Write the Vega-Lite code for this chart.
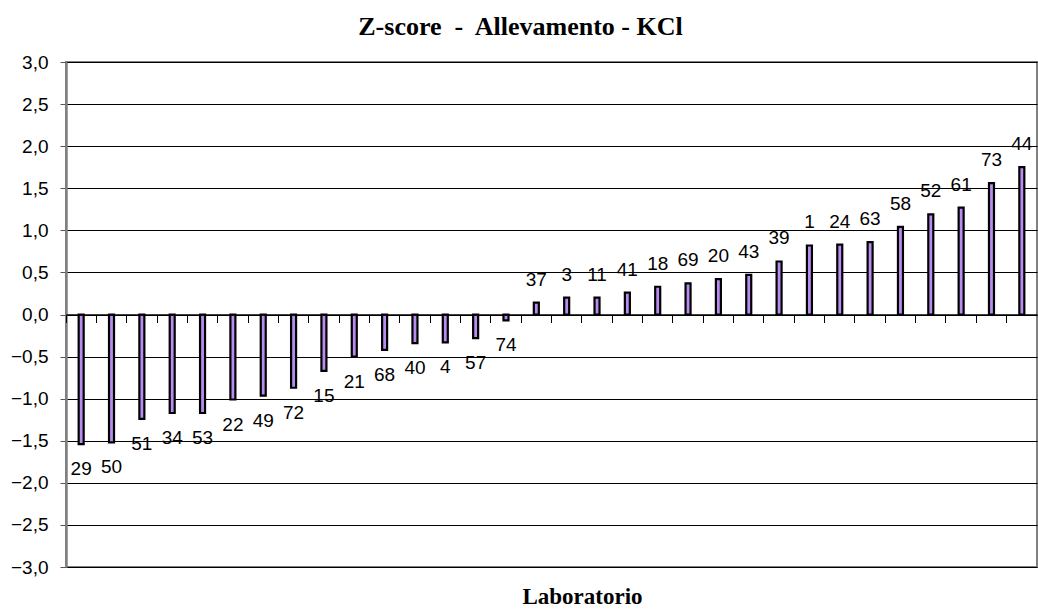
{
  "$schema": "https://vega.github.io/schema/vega-lite/v6.json",
  "width": 971,
  "height": 505,
  "autosize": "none",
  "padding": {"left": 66, "top": 62, "right": 1, "bottom": 43},
  "background": "white",
  "title": {
    "text": "Z-score \u00a0-\u00a0 Allevamento - KCl",
    "font": "Liberation Serif",
    "fontSize": 26,
    "fontWeight": "bold",
    "color": "black",
    "anchor": "middle",
    "dx": -31,
    "offset": 13
  },
  "data": {
    "values": [
      {"lab": "29", "z": -1.54},
      {"lab": "50", "z": -1.52},
      {"lab": "51", "z": -1.24},
      {"lab": "34", "z": -1.17},
      {"lab": "53", "z": -1.17},
      {"lab": "22", "z": -1.01},
      {"lab": "49", "z": -0.965},
      {"lab": "72", "z": -0.87},
      {"lab": "15", "z": -0.67},
      {"lab": "21", "z": -0.5},
      {"lab": "68", "z": -0.42},
      {"lab": "40", "z": -0.34},
      {"lab": "4", "z": -0.33},
      {"lab": "57", "z": -0.28},
      {"lab": "74", "z": -0.07},
      {"lab": "37", "z": 0.14},
      {"lab": "3", "z": 0.2},
      {"lab": "11", "z": 0.2},
      {"lab": "41", "z": 0.26},
      {"lab": "18", "z": 0.33},
      {"lab": "69", "z": 0.37},
      {"lab": "20", "z": 0.42},
      {"lab": "43", "z": 0.47},
      {"lab": "39", "z": 0.63},
      {"lab": "1", "z": 0.82},
      {"lab": "24", "z": 0.83},
      {"lab": "63", "z": 0.86},
      {"lab": "58", "z": 1.04},
      {"lab": "52", "z": 1.19},
      {"lab": "61", "z": 1.27},
      {"lab": "73", "z": 1.56},
      {"lab": "44", "z": 1.75}
    ]
  },
  "encoding": {
    "x": {
      "field": "lab",
      "type": "nominal",
      "sort": null,
      "scale": {"paddingInner": 0, "paddingOuter": 0},
      "axis": {
        "orient": "bottom",
        "offset": -252.5,
        "labels": false,
        "grid": false,
        "domainColor": "black",
        "domainWidth": 1.5,
        "tickColor": "black",
        "tickSize": 8,
        "tickWidth": 1,
        "bandPosition": 0,
        "title": "Laboratorio",
        "titleFont": "Liberation Serif",
        "titleFontSize": 23,
        "titleFontWeight": "bold",
        "titleColor": "black",
        "titleAlign": "center",
        "titleBaseline": "alphabetic",
        "titleX": 516,
        "titleY": 289,
        "zindex": 1
      }
    },
    "y": {
      "field": "z",
      "type": "quantitative",
      "scale": {"domain": [-3, 3], "nice": false, "zero": false},
      "axis": {
        "values": [-3, -2.5, -2, -1.5, -1, -0.5, 0, 0.5, 1, 1.5, 2, 2.5, 3],
        "labelExpr": "replace(format(datum.value, '.1f'), '.', ',')",
        "labelFont": "Liberation Sans",
        "labelFontSize": 19,
        "labelColor": "black",
        "labelPadding": 12,
        "grid": true,
        "gridColor": "black",
        "gridWidth": 1,
        "domainColor": "#808080",
        "domainWidth": 2.5,
        "tickColor": "#555555",
        "tickSize": 6,
        "tickWidth": 1,
        "title": null
      }
    }
  },
  "layer": [
    {
      "mark": {"type": "bar", "size": 5, "fill": "#b88cf0", "stroke": "black", "strokeWidth": 2.2}
    },
    {
      "transform": [{"filter": "datum.z >= 0"}],
      "mark": {"type": "text", "font": "Liberation Sans", "fontSize": 19, "color": "black", "baseline": "alphabetic", "dy": -17},
      "encoding": {"text": {"field": "lab"}}
    },
    {
      "transform": [{"filter": "datum.z < 0"}],
      "mark": {"type": "text", "font": "Liberation Sans", "fontSize": 19, "color": "black", "baseline": "top", "dy": 16},
      "encoding": {"text": {"field": "lab"}}
    }
  ],
  "config": {
    "view": {"stroke": "#808080", "strokeWidth": 2}
  }
}
